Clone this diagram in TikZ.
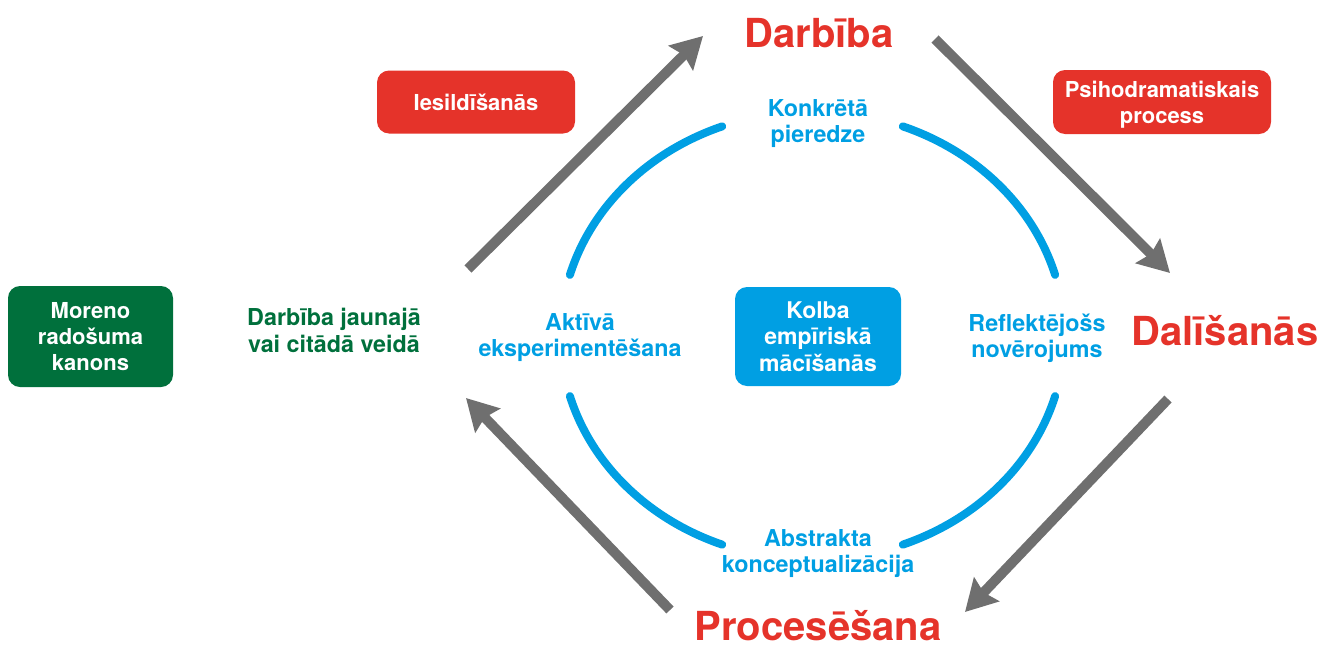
\documentclass[tikz,border=0pt]{standalone}
\usepackage{fontspec}
\setmainfont{TeX Gyre Heros}
\usetikzlibrary{arrows.meta}
\definecolor{kred}{HTML}{E5332A}
\definecolor{kblue}{HTML}{009FE3}
\definecolor{kgreen}{HTML}{00703C}
\definecolor{kgray}{HTML}{6F6F6F}
\begin{document}
\begin{tikzpicture}[x=1pt,y=1pt,
  stage/.style={text=kred,inner sep=0pt,anchor=base,
    font=\fontsize{40}{48}\selectfont\bfseries},
  mode/.style={text=kblue,inner sep=0pt,align=center,
    font=\fontsize{23.3}{26}\selectfont\bfseries},
  note/.style={text=kgreen,inner sep=0pt,align=center,
    font=\fontsize{23.3}{27}\selectfont\bfseries},
  tag/.style={fill=#1,text=white,rounded corners=12pt,inner sep=0pt,align=center,
    font=\fontsize{22}{26}\selectfont\bfseries},
  flow/.style={draw=kgray,line width=10pt,
    -{Stealth[length=31pt,width=34pt,inset=4pt]}},
  cyclearc/.style={draw=kblue,line width=8pt,line cap=round}]
\useasboundingbox (0,0) rectangle (1320,-648);

% stages of the cycle
\node[stage] (darb) at (819,-47) {Darbība};
\node[stage] (dal) at (1225,-345) {Dalīšanās};
\node[stage] (proc) at (818,-640) {Procesēšana};

% Kolb's learning modes
\node[mode] (konk) at (818,-124) {Konkrētā\\pieredze};
\node[mode] (akt) at (580,-338) {Aktīvā\\eksperimentēšana};
\node[mode] (refl) at (1037,-338) {Reflektējošs\\novērojums};
\node[mode] (abst) at (818,-554) {Abstrakta\\konceptualizācija};
\node[note] (jaun) at (334,-330) {Darbība jaunajā\\vai citādā veidā};

% labelled boxes
\node[tag=kred,minimum width=198pt,minimum height=63pt] (iesi) at (476,-102) {Iesildīšanās};
\node[tag=kred,minimum width=218pt,minimum height=64pt] (psih) at (1162,-102) {Psihodramatiskais\\\smash{process}};
\node[tag=kgreen,minimum width=165pt,minimum height=101pt] (mor) at (90.5,-336.5) {Moreno\\radošuma\\kanons};
\node[tag=kblue,minimum width=166pt,minimum height=99pt,font=\fontsize{23}{26.5}\selectfont\bfseries] (kolb) at (818,-336.5) {Kolba\\empīriskā\\mācīšanās};

% the four arcs of the learning cycle
\coordinate (c) at (812.5,-335.5);
\draw[cyclearc] (c) ++(111:252 and 224) arc[start angle=111,end angle=164.3,x radius=252,y radius=224];
\draw[cyclearc] (c) ++(15.7:252 and 224) arc[start angle=15.7,end angle=69,x radius=252,y radius=224];
\draw[cyclearc] (c) ++(195.7:252 and 224) arc[start angle=195.7,end angle=249,x radius=252,y radius=224];
\draw[cyclearc] (c) ++(291:252 and 224) arc[start angle=291,end angle=344.3,x radius=252,y radius=224];

% grey process arrows
\coordinate (a1) at (468,-269);
\coordinate (a1t) at (703,-36);
\coordinate (a2) at (935,-39);
\coordinate (a2t) at (1170,-273);
\coordinate (a3) at (1168,-399);
\coordinate (a3t) at (965,-612);
\coordinate (a4) at (670,-610);
\coordinate (a4t) at (466,-398);
\draw[flow] (a1) -- (a1t);
\draw[flow] (a2) -- (a2t);
\draw[flow] (a3) -- (a3t);
\draw[flow] (a4) -- (a4t);
\end{tikzpicture}
\end{document}
